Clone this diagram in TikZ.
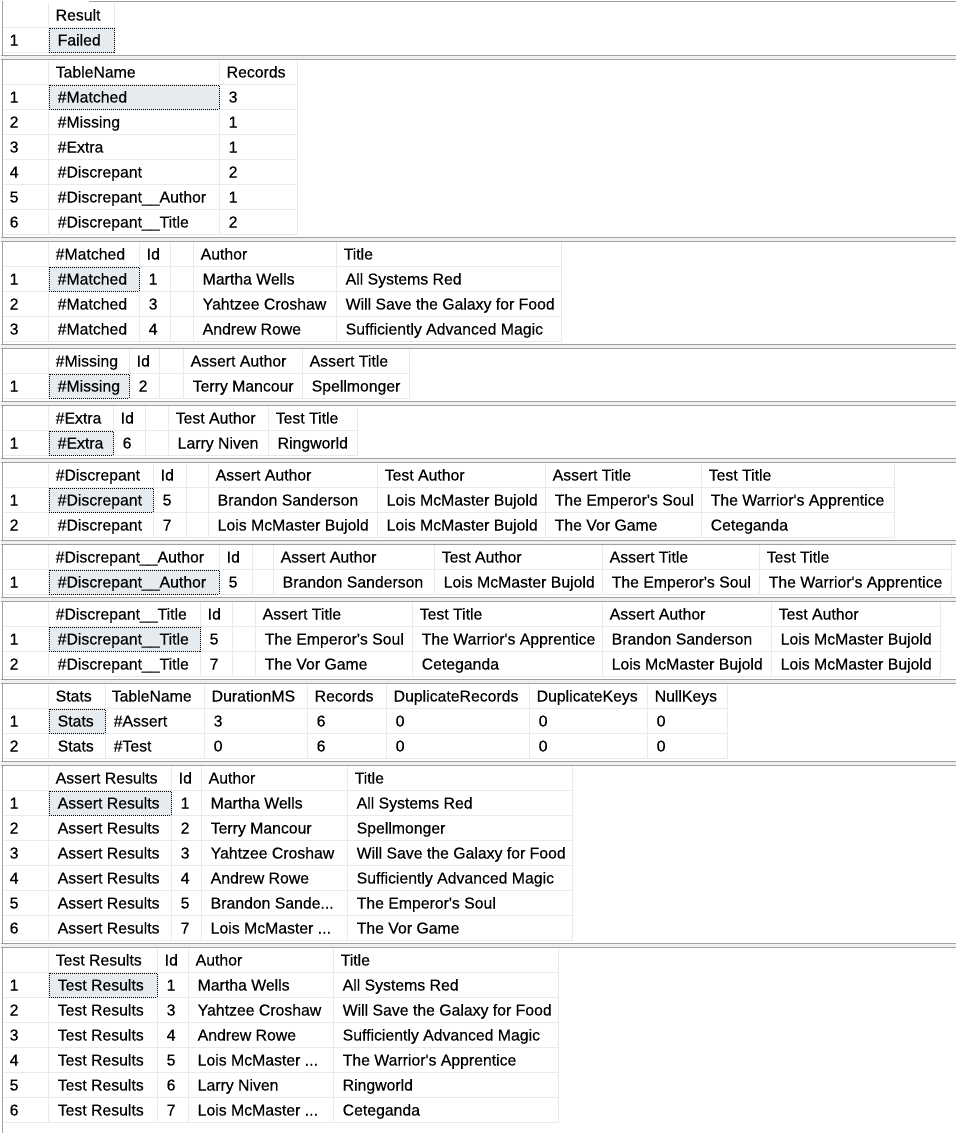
\documentclass[tikz,border=0pt]{standalone}
\usepackage{fontspec}
\setmainfont{Liberation Sans}[Ligatures=TeXOff, FakeBold=0.3]

\definecolor{splitgray}{HTML}{A0A0A0}
\definecolor{gapgray}{HTML}{F0F0F0}
\definecolor{gridgray}{HTML}{EAEAEA}
\definecolor{selfill}{HTML}{E6EBF0}

% grid of one result panel: top, rows, column edges, right edge
\newcommand{\panelgrid}[4]{%
  \pgfmathtruncatemacro{\nlines}{#2+1}%
  \foreach \x in {#3}
    \draw[gridline] (\x,#1) -- (\x,{#1+25*\nlines});
  \foreach \k in {1,...,\nlines}
    \draw[gridline] (3,{#1+25*\k}) -- (#4,{#1+25*\k});
}
\newcommand{\splitbar}[1]{%
  \fill[gapgray] (0,#1) rectangle (956,{#1+4});
  \draw[splitline] (0,#1) -- (956,#1) (0,{#1+4}) -- (956,{#1+4});
}
\newcommand{\selcell}[2]{%
  \fill[selfill] (48,#1) rectangle (#2,{#1+25});
  \draw[selbox] (48.5,{#1+0.5}) rectangle ({#2-0.5},{#1+24.5});
}
\newcommand{\cellrow}[2]{%
  \foreach \cx/\ctext in {#2}
    \node[txt] (t\cx-#1) at (\cx,{#1+18}) {\ctext};
}
\newcommand{\cutdots}{...}

\begin{document}
\begin{tikzpicture}[x=1pt, y=-1pt,
    gridline/.style={gridgray, line width=1pt},
    splitline/.style={splitgray, line width=1pt},
    selbox/.style={black, line width=1pt, dash pattern=on 1pt off 1pt},
    txt/.style={anchor=base west, inner sep=0pt, text=black,
      font=\fontsize{15.8}{19}\selectfont}]
  \fill[white] (0,0) rectangle (956,1133);
  \useasboundingbox (0,0) rectangle (956,1133);
  \begin{scope}[xshift=0.5pt, yshift=-0.5pt]
  \draw[splitline] (2,0) -- (2,1133);
  \draw[splitline] (88,1) -- (956,1);

  % Result
  \panelgrid{2}{1}{48,114}{114}
  \selcell{27}{114}
  \cellrow{2}{55/Result}
  \cellrow{27}{9/1, 57/Failed}
  \splitbar{55}

  % TableName / Records
  \panelgrid{59}{6}{48,219,297}{297}
  \selcell{84}{219}
  \cellrow{59}{55/TableName, 226/Records}
  \cellrow{84}{9/1, 57/\#Matched, 228/3}
  \cellrow{109}{9/2, 57/\#Missing, 228/1}
  \cellrow{134}{9/3, 57/\#Extra, 228/1}
  \cellrow{159}{9/4, 57/\#Discrepant, 228/2}
  \cellrow{184}{9/5, 57/\#Discrepant\_\_Author, 228/1}
  \cellrow{209}{9/6, 57/\#Discrepant\_\_Title, 228/2}
  \splitbar{237}

  % #Matched
  \panelgrid{241}{3}{48,139,170,193,336,561}{561}
  \selcell{266}{139}
  \cellrow{241}{55/\#Matched, 146/Id, 200/Author, 343/Title}
  \cellrow{266}{9/1, 57/\#Matched, 148/1, 202/Martha Wells, 345/All Systems Red}
  \cellrow{291}{9/2, 57/\#Matched, 148/3, 202/Yahtzee Croshaw, 345/Will Save the Galaxy for Food}
  \cellrow{316}{9/3, 57/\#Matched, 148/4, 202/Andrew Rowe, 345/Sufficiently Advanced Magic}
  \splitbar{344}

  % #Missing
  \panelgrid{348}{1}{48,129,159,183,302,409}{409}
  \selcell{373}{129}
  \cellrow{348}{55/\#Missing, 136/Id, 190/Assert Author, 309/Assert Title}
  \cellrow{373}{9/1, 57/\#Missing, 138/2, 192/Terry Mancour, 311/Spellmonger}
  \splitbar{401}

  % #Extra
  \panelgrid{405}{1}{48,113,145,168,268,357}{357}
  \selcell{430}{113}
  \cellrow{405}{55/\#Extra, 120/Id, 175/Test Author, 275/Test Title}
  \cellrow{430}{9/1, 57/\#Extra, 122/6, 177/Larry Niven, 277/Ringworld}
  \splitbar{458}

  % #Discrepant
  \panelgrid{462}{2}{48,153,186,208,377,545,701,894}{894}
  \selcell{487}{153}
  \cellrow{462}{55/\#Discrepant, 160/Id, 215/Assert Author, 384/Test Author, 552/Assert Title, 708/Test Title}
  \cellrow{487}{9/1, 57/\#Discrepant, 162/5, 217/Brandon Sanderson, 386/Lois McMaster Bujold, 554/The Emperor's Soul, 710/The Warrior's Apprentice}
  \cellrow{512}{9/2, 57/\#Discrepant, 162/7, 217/Lois McMaster Bujold, 386/Lois McMaster Bujold, 554/The Vor Game, 710/Ceteganda}
  \splitbar{540}

  % #Discrepant__Author
  \panelgrid{544}{1}{48,219,252,273,434,602,759,951}{951}
  \selcell{569}{219}
  \cellrow{544}{55/\#Discrepant\_\_Author, 226/Id, 280/Assert Author, 441/Test Author, 609/Assert Title, 766/Test Title}
  \cellrow{569}{9/1, 57/\#Discrepant\_\_Author, 228/5, 282/Brandon Sanderson, 443/Lois McMaster Bujold, 611/The Emperor's Soul, 768/The Warrior's Apprentice}
  \splitbar{597}

  % #Discrepant__Title
  \panelgrid{601}{2}{48,200,232,255,412,602,771,940}{940}
  \selcell{626}{200}
  \cellrow{601}{55/\#Discrepant\_\_Title, 207/Id, 262/Assert Title, 419/Test Title, 609/Assert Author, 778/Test Author}
  \cellrow{626}{9/1, 57/\#Discrepant\_\_Title, 209/5, 264/The Emperor's Soul, 421/The Warrior's Apprentice, 611/Brandon Sanderson, 780/Lois McMaster Bujold}
  \cellrow{651}{9/2, 57/\#Discrepant\_\_Title, 209/7, 264/The Vor Game, 421/Ceteganda, 611/Lois McMaster Bujold, 780/Lois McMaster Bujold}
  \splitbar{679}

  % Stats
  \panelgrid{683}{2}{48,105,204,307,386,529,647,727}{727}
  \selcell{708}{105}
  \cellrow{683}{55/Stats, 111/TableName, 211/DurationMS, 314/Records, 393/DuplicateRecords, 536/DuplicateKeys, 654/NullKeys}
  \cellrow{708}{9/1, 57/Stats, 113/\#Assert, 213/3, 316/6, 395/0, 538/0, 656/0}
  \cellrow{733}{9/2, 57/Stats, 113/\#Test, 213/0, 316/6, 395/0, 538/0, 656/0}
  \splitbar{761}

  % Assert Results
  \panelgrid{765}{6}{48,171,201,347,572}{572}
  \selcell{790}{171}
  \cellrow{765}{55/Assert Results, 178/Id, 208/Author, 354/Title}
  \cellrow{790}{9/1, 57/Assert Results, 180/1, 210/Martha Wells, 356/All Systems Red}
  \cellrow{815}{9/2, 57/Assert Results, 180/2, 210/Terry Mancour, 356/Spellmonger}
  \cellrow{840}{9/3, 57/Assert Results, 180/3, 210/Yahtzee Croshaw, 356/Will Save the Galaxy for Food}
  \cellrow{865}{9/4, 57/Assert Results, 180/4, 210/Andrew Rowe, 356/Sufficiently Advanced Magic}
  \cellrow{890}{9/5, 57/Assert Results, 180/5, 210/Brandon Sande\cutdots, 356/The Emperor's Soul}
  \cellrow{915}{9/6, 57/Assert Results, 180/7, 210/Lois McMaster \cutdots, 356/The Vor Game}
  \splitbar{943}

  % Test Results
  \panelgrid{947}{6}{48,157,188,333,558}{558}
  \selcell{972}{157}
  \cellrow{947}{55/Test Results, 164/Id, 195/Author, 340/Title}
  \cellrow{972}{9/1, 57/Test Results, 166/1, 197/Martha Wells, 342/All Systems Red}
  \cellrow{997}{9/2, 57/Test Results, 166/3, 197/Yahtzee Croshaw, 342/Will Save the Galaxy for Food}
  \cellrow{1022}{9/3, 57/Test Results, 166/4, 197/Andrew Rowe, 342/Sufficiently Advanced Magic}
  \cellrow{1047}{9/4, 57/Test Results, 166/5, 197/Lois McMaster \cutdots, 342/The Warrior's Apprentice}
  \cellrow{1072}{9/5, 57/Test Results, 166/6, 197/Larry Niven, 342/Ringworld}
  \cellrow{1097}{9/6, 57/Test Results, 166/7, 197/Lois McMaster \cutdots, 342/Ceteganda}
  \end{scope}
\end{tikzpicture}
\end{document}
